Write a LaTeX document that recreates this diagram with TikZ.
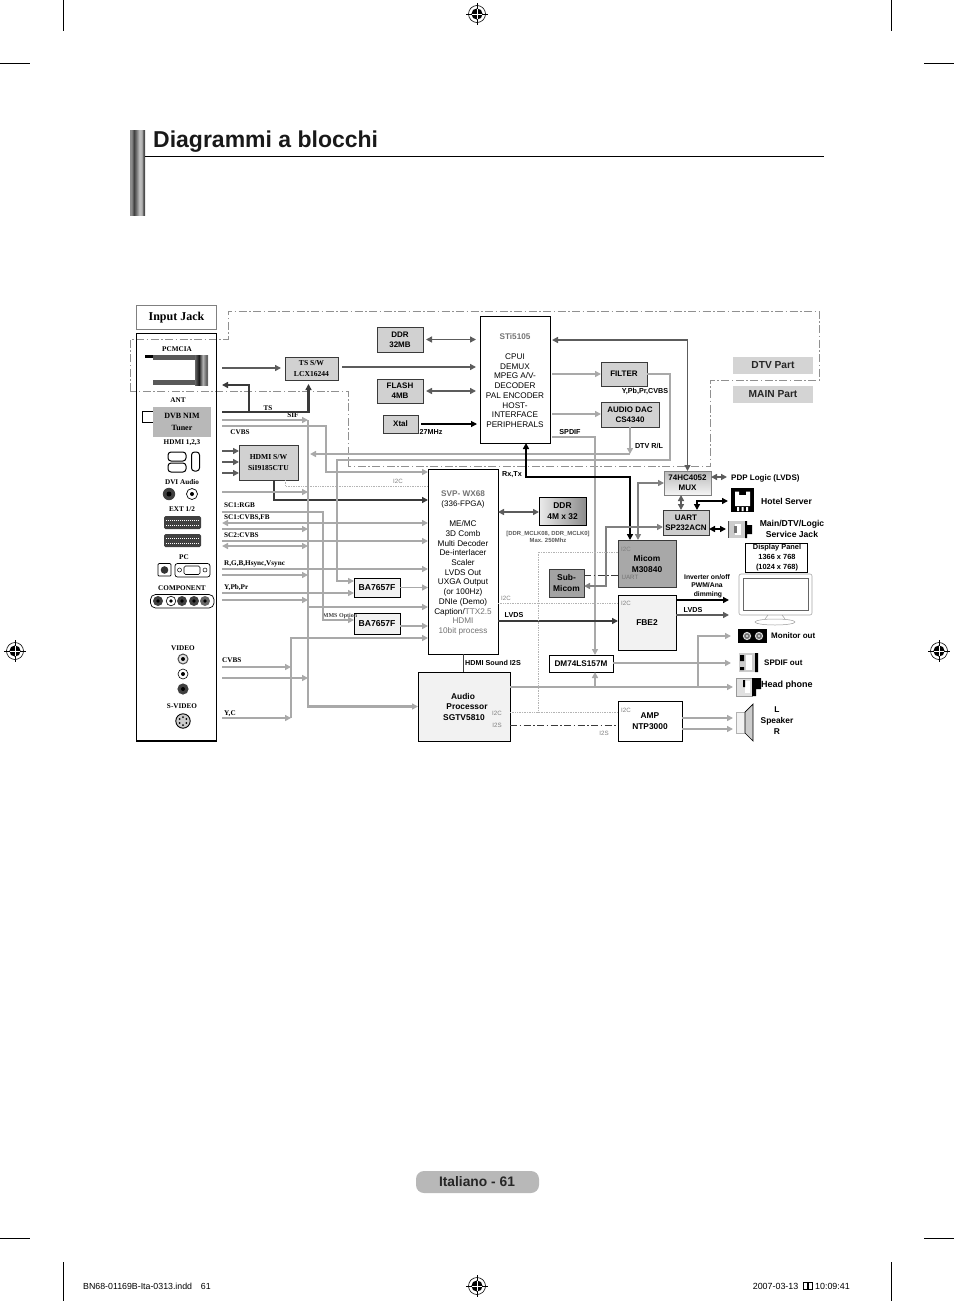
\documentclass[tikz,border=0pt]{standalone}
\usepackage{fontspec}
\setmainfont{Liberation Sans}
\newfontfamily\srf{Liberation Serif}
\usetikzlibrary{arrows.meta,calc,shapes.geometric}
\definecolor{gA}{HTML}{A9A9A9}
\definecolor{gB}{HTML}{5C5C5C}
\definecolor{gC}{HTML}{3A3A3A}
\definecolor{gT}{HTML}{808080}
\definecolor{gD}{HTML}{909090}
\definecolor{gL}{HTML}{B4B4B4}
\pgfdeclarehorizontalshading{barsh}{100bp}{color(0bp)=(black!45);color(30bp)=(black!45);color(38bp)=(black!75);color(46bp)=(black!55);color(56bp)=(black!25);color(64bp)=(black!30);color(70bp)=(black!70);color(100bp)=(black!70)}
\pgfdeclarehorizontalshading{pcsh}{100bp}{color(0bp)=(black!60);color(25bp)=(black!60);color(40bp)=(black!90);color(55bp)=(black!30);color(70bp)=(black!65);color(85bp)=(black!15);color(100bp)=(black!55)}
\tikzset{x=1pt,y=-1pt,
 tipS/.tip={Triangle[length=6pt,width=6pt]},
 ga/.style={draw=gA,line width=1.9pt,-{tipS}},
 gaa/.style={draw=gA,line width=1.9pt,{tipS}-{tipS}},
 gp/.style={draw=gA,line width=1.9pt},
 busl/.style={draw=gA,line width=2.6pt,-{tipS}},
 dk/.style={draw=gB,line width=1.9pt,-{tipS}},
 dkk/.style={draw=gB,line width=1.9pt,{tipS}-{tipS}},
 md/.style={draw=gT,line width=1.8pt,{tipS}-{tipS}},
 bl/.style={draw=black,line width=1.8pt,-{tipS}},
 blb/.style={draw=black,line width=1.8pt,{tipS}-{tipS}},
 tsl/.style={draw=gC,line width=2.1pt,-{tipS}},
 dtv/.style={draw=gD,line width=.7pt,dash pattern=on 8pt off 2.5pt on 1.5pt off 2.5pt},
 dots/.style={draw=gL,line width=.7pt,densely dotted},
 dashd/.style={draw=gC,line width=.6pt,dash pattern=on 7pt off 2.5pt on 1.5pt off 2.5pt},
 gbox/.style={draw=gC,line width=.8pt,fill=black!18,text=black,font=\fontsize{8}{10.2}\selectfont\bfseries},
 sbox/.style={draw=gC,line width=.8pt,fill=black!18,text=black,font=\srf\fontsize{7.6}{11}\selectfont\bfseries},
 wbox/.style={draw=black,line width=.9pt,fill=white,text=black,font=\fontsize{8.2}{9.72}\selectfont},
 lbox/.style={draw=black,line width=.8pt,fill=black!5,text=black,font=\fontsize{8.4}{11}\selectfont\bfseries},
 dbox/.style={draw=gC,line width=.8pt,fill=black!36,text=black,font=\fontsize{8.4}{11}\selectfont\bfseries},
 pbox/.style={draw=none,fill=black!17,text=black!85,font=\fontsize{10.2}{11}\selectfont\bfseries},
 sl/.style={inner sep=0pt,text=black,font=\srf\fontsize{7.2}{9}\selectfont\bfseries},
 sll/.style={sl,anchor=west},
 hl/.style={inner sep=0pt,text=black,font=\fontsize{7.2}{9.2}\selectfont\bfseries,align=center},
 hll/.style={hl,anchor=west,font=\fontsize{8}{9.2}\selectfont\bfseries},
 il/.style={inner sep=0pt,text=gT,font=\fontsize{6.2}{7}\selectfont},
 cmark/.style={draw=black,line width=.6pt},
}
\def\bx#1#2#3#4#5#6#7{\node[#6,minimum width=#4pt-#2pt,minimum height=#5pt-#3pt,inner sep=0pt,outer sep=0pt,align=center] (#1) at ({(#2+#4)/2},{(#3+#5)/2}) {#7};}
\def\regmark#1#2{\draw[cmark] (#1,#2) circle (8.5);
 \fill[black] (#1,#2) circle (5.6);
 \draw[cmark] (#1-11,#2) -- (#1+11,#2) (#1,#2-11) -- (#1,#2+11);
 \draw[white,line width=.4pt] (#1-5,#2) -- (#1+5,#2) (#1,#2-5) -- (#1,#2+5);}
\begin{document}
\begin{tikzpicture}
\useasboundingbox (0,0) rectangle (954,1301);
% crop marks
\draw[cmark] (63,0) -- (63,31) (891,0) -- (891,31) (0,63) -- (30,63) (924,63) -- (954,63);
\draw[cmark] (63,1262) -- (63,1301) (891,1262) -- (891,1301) (0,1238) -- (30,1238) (924,1238) -- (954,1238);
\regmark{477}{14}\regmark{15}{651}\regmark{939}{651}\regmark{477}{1286}
% title
\shade[shading=barsh] (130,130) rectangle (145,215);
\draw[black,line width=.8pt] (145,156.5) -- (824,156.5);
\node[anchor=base west,inner sep=0pt,font=\fontsize{23}{25}\selectfont\bfseries,text=black!90] (title) at (153,147.5) {Diagrammi a blocchi};
% footer
\fill[black!28,rounded corners=8pt] (416,1171) rectangle (539,1193);
\node[inner sep=0pt,font=\fontsize{13.8}{16}\selectfont\bfseries,text=black!85] (foot) at (477,1181.5) {Italiano - 61};
\node[anchor=west,inner sep=0pt,font=\fontsize{8.8}{9}\selectfont] (footl) at (83,1286) {BN68-01169B-Ita-0313.indd\quad 61};
\node[anchor=east,inner sep=0pt,font=\fontsize{8.9}{9}\selectfont] (footr) at (850,1286) {2007-03-13\ \ \tikz[x=1pt,y=1pt]\draw[line width=.4pt] (0,0) rectangle (4,7) (5,0) rectangle (9,7);\ 10:09:41};
% DTV boundary
\draw[dtv] (130,391) -- (130,339) -- (228,339) -- (228,311) -- (819,311) -- (819,380) -- (710,380) -- (710,466) -- (348,466) -- (348,391) -- cycle;
% input panel
\node[draw=gT,line width=1.6pt,fill=white,inner sep=0pt,minimum width=80pt,minimum height=24pt,font=\srf\fontsize{12}{14}\selectfont\bfseries] (ij) at (176.5,317.5) {\raisebox{-1.5pt}{Input Jack}};
\draw[black,line width=.9pt] (136.5,333) -- (136.5,741) (216.7,333) -- (216.7,741) (136.5,333) -- (216.7,333);
\draw[black,line width=1.4pt] (136,741) -- (217,741);
\node[sl] (pcm) at (177,349) {PCMCIA};
\fill[black] (145,355) rectangle (153,357.5);
\fill[black!65] (153,355) rectangle (195,359.5);
\fill[black!65] (153,380) rectangle (195,384.5);
\shade[shading=pcsh] (195,355) rectangle (208,385);
\node[sl] (ant) at (178,400) {ANT};
\draw[black,line width=.6pt,fill=white] (142,411) rectangle (153,422);
\bx{dvb}{153}{407}{211}{437}{draw=none,fill=black!28,font=\srf\fontsize{8}{11.5}\selectfont\bfseries}{DVB NIM\\Tuner}
\node[sl] (hd) at (182,443) {HDMI 1,2,3};
\draw[black,line width=1pt,rounded corners=3pt,fill=white] (168,452) rectangle (186,461) (168,463) rectangle (186,472) (191.5,452) rectangle (199.5,471);
\node[sl] (dvi) at (182,482) {DVI Audio};
\fill[black!75] (169,494) circle (6.2);\fill[black] (169,494) circle (2.5);
\draw[black,line width=.7pt] (192,494) circle (5.5);\fill[black] (192,494) circle (2);
\node[sl] (ext) at (182,509) {EXT 1/2};
\foreach \yy in {516,534}{
 \fill[black!75,rounded corners=1.5pt] (164,\yy) rectangle (201,\yy+13);
 \draw[white,line width=1pt,dash pattern=on 1pt off 1pt] (166,\yy+4) -- (199,\yy+4) (166,\yy+9) -- (199,\yy+9);}
\node[sl] (pc) at (184,557) {PC};
\draw[black,line width=.7pt,rounded corners=1pt] (158,563.5) rectangle (171,576);
\fill[black!80] (164.5,570) circle (3.8);
\draw[black,line width=.7pt,rounded corners=2.5pt] (175,563.5) rectangle (210,577);
\draw[black,line width=.6pt,rounded corners=1.5pt] (184,566) rectangle (200,574.5);
\draw[black,line width=.5pt] (179.5,570) circle (2) (205,570) circle (2);
\node[sl] (cmp) at (182,588) {COMPONENT};
\draw[black,line width=.7pt,rounded corners=5pt] (150.5,594.5) rectangle (214,608);
\foreach \xx/\cc in {158/75,182/75,194/75,205/60}{\fill[black!\cc] (\xx,601) circle (5);\fill[black] (\xx,601) circle (1.8);}
\draw[black,line width=.6pt] (171,601) circle (4.8);\fill[black] (171,601) circle (1.8);
\node[sl] (vd) at (183,648) {VIDEO};
\draw[black!70,line width=1pt,fill=black!12] (183,659) circle (5);\fill[black] (183,659) circle (2);
\draw[black,line width=.6pt] (183,674) circle (5);\fill[black] (183,674) circle (2);
\fill[black!75] (183,689) circle (5.6);\fill[black] (183,689) circle (2);
\node[sl] (sv) at (182,706) {S-VIDEO};
\draw[black,line width=.9pt,fill=black!20] (183,721) circle (7.2);
\foreach \aa in {30,90,150,210,270,330}{\fill[black] (183,721)+(\aa:4) circle (1);}
% left labels
\node[sll] (l1) at (224,505) {SC1:RGB};
\node[sll] (l2) at (224,517.5) {SC1:CVBS,FB};
\node[sll] (l3) at (224,535) {SC2:CVBS};
\node[sll] (l4) at (224,563.5) {R,G,B,Hsync,Vsync};
\node[sll] (l5) at (224,587.5) {Y,Pb,Pr};
\node[sll] (l6) at (222,660) {CVBS};
\node[sll] (l7) at (224,714) {Y,C};
\node[sl] (l8) at (268,408.5) {TS};
\node[sl] (l9) at (293,415.5) {SIF};
\node[sl] (l10) at (240,432) {CVBS};
% boxes
\bx{ts}{285}{357}{338}{380}{sbox}{TS S/W\\LCX16244}
\bx{hdmi}{239}{445}{298}{480}{sbox}{HDMI S/W\\SiI9185CTU}
\bx{ddr1}{377}{327}{423}{352}{gbox}{DDR\\32MB}
\bx{fl}{377}{379}{423}{403}{gbox}{FLASH\\4MB}
\bx{xt}{383}{415}{418}{433}{gbox}{Xtal}
\node[wbox,minimum width=70pt,minimum height=127pt,inner sep=0pt,outer sep=0pt] (sti) at (515,379.5) {};
\bx{filt}{601}{362}{647}{386}{gbox}{FILTER}
\bx{dac}{601}{402}{659}{427}{gbox}{AUDIO DAC\\CS4340}
\node[wbox,minimum width=70pt,minimum height=185pt,inner sep=0pt,outer sep=0pt] (svp) at (463,561.5) {};
\bx{ddr2}{539}{497}{586}{525}{lbox,left color=black!8,right color=black!45}{DDR\\4M x 32}
\bx{ba1}{354}{578}{400}{597}{lbox,font=\fontsize{8.6}{10}\selectfont\bfseries}{BA7657F}
\bx{ba2}{354}{613}{400}{634}{lbox,font=\fontsize{8.6}{10}\selectfont\bfseries}{BA7657F}
\bx{aud}{418}{672}{510}{741}{lbox}{}
\bx{mux}{664}{471}{711}{495}{gbox,draw=black!50,top color=black!28,bottom color=black!4}{74HC4052\\MUX}
\bx{uart}{663}{510}{709}{535}{gbox,draw=gC,fill=black!20}{UART\\SP232ACN}
\bx{mic}{618}{540}{676}{587}{dbox,fill=black!34}{Micom\\M30840}
\bx{sub}{549}{569}{584}{597}{dbox}{Sub-\\Micom}
\bx{fbe}{618}{595}{676}{650}{lbox}{FBE2}
\bx{dm}{549}{655}{613}{672}{lbox,fill=white,font=\fontsize{8.2}{10}\selectfont\bfseries}{DM74LS157M}
\bx{amp}{618}{701}{682}{741}{lbox,fill=white}{AMP\\NTP3000}
\bx{disp}{745}{543}{807}{572}{lbox,fill=white,font=\fontsize{7.4}{9.8}\selectfont\bfseries}{\hspace*{2pt}Display Panel\\\hspace*{2pt}1366 x 768\\\hspace*{2pt}(1024 x 768)}
\bx{dtvp}{733}{357}{813}{374}{pbox}{DTV Part}
\bx{mainp}{733}{386}{813}{403}{pbox}{MAIN Part}
\node[inner sep=0pt,font=\srf\fontsize{6}{7}\selectfont\bfseries,text=black!75] (l11) at (340,616) {MMS Option};
% STi text
\node[inner sep=0pt,font=\fontsize{8.2}{10}\selectfont\bfseries,text=black!55] (stit) at (515,336.5) {STi5105};
\node[inner sep=0pt,align=center,font=\fontsize{8.2}{9.72}\selectfont,anchor=north] (stib) at (515,353.5) {CPUI\\DEMUX\\MPEG A/V-\\DECODER\\PAL ENCODER\\HOST-\\INTERFACE\\PERIPHERALS};
% SVP text
\node[inner sep=0pt,font=\fontsize{8.2}{10}\selectfont\bfseries,text=black!55] (svpt) at (463,494) {SVP- WX68};
\node[inner sep=0pt,font=\fontsize{8}{10}\selectfont] (svpu) at (463,504) {(336-FPGA)};
\node[inner sep=0pt,align=center,font=\fontsize{8.2}{9.72}\selectfont,anchor=north] (svpb) at (463,520.5) {ME/MC\\3D Comb\\Multi Decoder\\De-interlacer\\Scaler\\LVDS Out\\UXGA Output\\(or 100Hz)\\DNIe (Demo)\\Caption/{\color{black!55}TTX2.5}\\{\color{black!55}HDMI}\\{\color{black!55}10bit process}};
% audio text
\node[inner sep=0pt,font=\fontsize{8.4}{10}\selectfont\bfseries] (a1) at (463,696) {Audio};
\node[inner sep=0pt,font=\fontsize{8.4}{10}\selectfont\bfseries] (a2) at (467,707) {Processor};
\node[inner sep=0pt,font=\fontsize{8.4}{10}\selectfont\bfseries] (a3) at (464,718) {SGTV5810};
% small grey labels
\node[il] (i1) at (398,481) {I2C};
\node[il] (i2) at (506,598) {I2C};
\node[il] (i3) at (497,713) {I2C};
\node[il] (i4) at (497,725) {I2S};
\node[il] (i5) at (604,733) {I2S};
\node[il] (i6) at (626,710) {I2C};
\node[il] (i7) at (626,603) {I2C};
\node[il] (i8) at (626,549) {I2C};
\node[il,text=black!55] (i9) at (630,577.5) {UART};
% hl labels
\node[hl] (h1) at (431,432) {27MHz};
\node[hl] (h2) at (570,432) {SPDIF};
\node[hl] (h3) at (645,391) {Y,Pb,Pr,CVBS};
\node[hl] (h4) at (649,446) {DTV R/L};
\node[hl] (h5) at (512,474.5) {Rx,Tx};
\node[hl,font=\fontsize{5.9}{7.2}\selectfont\bfseries,text=black!65] (h6) at (548,537) {[DDR\_MCLK08, DDR\_MCLK0]\\Max. 250Mhz};
\node[hl] (h7) at (514,615) {LVDS};
\node[hl] (h8) at (493,663) {HDMI Sound I2S};
\node[hl,font=\fontsize{6.8}{8.6}\selectfont\bfseries] (h9) at (707,586) {Inverter on/off\\PWM/Ana\\\ dimming};
\node[hl] (h10) at (693,610) {LVDS};
\node[hll] (h11) at (731,478) {PDP Logic (LVDS)};
\node[hll,font=\fontsize{8.6}{11}\selectfont\bfseries] (h12) at (761,501) {Hotel Server};
\node[hl,font=\fontsize{8.6}{11}\selectfont\bfseries] (h13) at (792,528.5) {Main/DTV/Logic\\Service Jack};
\node[hll] (h14) at (771,635.5) {Monitor out};
\node[hll] (h15) at (764,662.5) {SPDIF out};
\node[hll,font=\fontsize{9}{10}\selectfont\bfseries] (h16) at (761,685) {Head phone};
\node[hl,font=\fontsize{8.4}{11}\selectfont\bfseries] (h17) at (777,721) {L\\Speaker\\R};
% right icons
\fill[black] (731,488) rectangle (754,512);
\fill[white] (735,491.5) -- (739,491.5) -- (739,495) -- (746,495) -- (746,491.5) -- (750,491.5) -- (750,506) -- (735,506) -- cycle;
\fill[white] (737,507) rectangle (739,511) (741.5,507) rectangle (743.5,511) (746,507) rectangle (748,511);
% service jack
\fill[black!20] (728,521) rectangle (745,538);\fill[white] (735,524) rectangle (741,535);\fill[black!70] (728,521) rectangle (729,538);
\fill[black] (745,521) -- (747,521) -- (747,525) -- (752,525) -- (752,534) -- (747,534) -- (747,538) -- (745,538) -- cycle;
\fill[black!55] (734,526) rectangle (737,533);
% TV
\draw[black!35,line width=.6pt,rounded corners=2pt,fill=white] (739,574) rectangle (812,615);
\draw[black!60,line width=.6pt] (743,578) rectangle (808,610);
\draw[black!40,line width=.5pt] (775,622) ellipse (20 and 3);
\draw[black!40,line width=.5pt] (768,615) -- (765,619) (782,615) -- (785,619);
% monitor out
\fill[black] (738,629) rectangle (767,643);
\foreach \xx in {747,759}{\draw[black!15,line width=1pt,fill=black!55] (\xx,636) circle (3.6);\fill[black!10] (\xx,636) circle (1.2);}
% spdif out
\fill[black!20] (739,653) rectangle (755,672);\fill[white] (746,655) rectangle (752,670);
\fill[black] (740,655) rectangle (744,661) (740,667) rectangle (744,670) (755,653) rectangle (758,672);
% head phone
\fill[black!12] (736,678) rectangle (752,696);\draw[black!40,line width=.3pt] (736,678) rectangle (752,696);\fill[white] (745,681) rectangle (750,693);
\fill[black] (743,680) rectangle (745,687) (752,678) rectangle (761,689) (752,689) rectangle (756,696);
% speaker
\draw[black!30,line width=.5pt,fill=black!5] (736,712) rectangle (745,733);
\draw[black,line width=.7pt,fill=black!20] (745,712) -- (753,704) -- (753,741) -- (745,733) -- cycle;
% coordinates
\foreach \n/\x/\y in {sPC/222/368,tsO/342/367,sTS/222/412,sTSb/222/385,jTS/249/412,sSIF/222/420,sCV/222/426,sH1/222/451,sH2/222/462,sH3/222/473,sD/222/492,sRGB/222/512,sFBa/222/523,sFBb/222/529,sC2a/222/541,sC2b/222/546,sVa/222/569,sVb/222/575,sYa/222/593,sYb/222/600,sCv/222/667,sCw/222/678,sYC/222/718,jB1/308/420,jB2/308/523,jB3/308/607,jV/291/667,jDM/595/687,jMon/698/687,oMon/731/636,oSp/731/663,oHp/733/687,oA1/733/718,oA2/733/729,oIn/729/600,oLv/729/615,oHot/728/501,oSv/726/529,oPdp/727/477,
 stiR/550/340,stiF/550/374,stiD/550/414,stiS/550/437,stiB/526/443,micA/630/540,micB/638/540,muxL/664/483,uT/697/510,uR/709/529,uL/663/527,subR/584/586,subD/584/575,micD/618/575,dmT/595/655,audR/510/687,svpH/428/500,svpD/428/486,svpL/498/621,ddrL/498/512,ba1I/354/581,ba2I/354/620,ba2O/400/626,j454/630/454,h454/310/454,svpI/498/603,fbeI/618/603,i2sL/510/725,i2sR/618/725,i2cL/510/712,i2cR/618/712,i2cT/618/552,i2cC/538/552,i2cB/538/712,fbeH/676/600,fbeV/676/615,muxB/681/495,uartT/681/510,muxR/711/477,fltE/647/374,svpT/428/638,svp2/428/472}{\coordinate (\n) at (\x,\y);}
% dark connectors
\draw[dk,shorten >=4pt] (sPC) -- (sPC -| ts.west);
\draw[dk,line width=2.2pt,shorten >=4pt] (tsO) -- (tsO -| sti.west);
\draw[tsl,shorten >=4pt] (sTS) -| ([xshift=-3pt]ts.south);
\draw[tsl] (jTS) |- (sTSb);
\foreach \s in {sH1,sH2,sH3}{\draw[dk] (\s) -- (\s -| hdmi.west);}
\draw[tsl] ([xshift=5.5pt]hdmi.south) |- (svpH);
\draw[dots] ([xshift=16.5pt]hdmi.south) |- (svpD);
\draw[dkk,shorten >=4pt,shorten <=3pt] (ddr1.east) -- (ddr1.east -| sti.west);
\draw[dkk,shorten >=4pt,shorten <=3pt] (fl.east) -- (fl.east -| sti.west);
\draw[black,line width=1.1pt,-{tipS},shorten >=3pt,shorten <=3pt] (xt.east) -- (xt.east -| sti.west);
\draw[dkk,shorten <=2pt] (stiR) -| (mux.north);
\draw[ga,shorten <=2pt] (stiF) -- (stiF -| filt.west);
\draw[ga,shorten <=2pt] (stiD) -- (stiD -| dac.west);
\draw[ga] (filt.east) -- (670,374) -- (670,460) -- (337,460) |- (ba1I);
\draw[ga] (dac.south) -- (j454);
\draw[ga] (j454) -- (h454);
\draw[ga,shorten <=2pt] (stiS) -| (dmT);
\draw[ga] (audR) -- (oHp);
\draw[ga] (jDM) -- (jDM |- dm.south);
\draw[ga] (jMon) |- (oMon);
\draw[ga] (oSp -| dm.east) -- (oSp);
\draw[ga] (oA1 -| amp.east) -- (oA1);
\draw[ga] (oA2 -| amp.east) -- (oA2);
\draw[tsl] (svpL) -- (svpL -| fbe.west);
\draw[blb] (stiB) |- (630,477) -- (micA);
\draw[md] (micB) |- (muxL);
\draw[dkk] (muxB) -- (uartT);
\draw[blb] (uT) |- (oHot);
\draw[blb] (uR) -- (oSv);
\draw[dkk] (muxR) -- (oPdp);
\draw[md] (uL) -- (606,527) |- (subR);
\draw[dashd] (subD) -- (micD);
\draw[dots] (i2cT) -- (i2cC) -- (i2cB);
\draw[dots] (i2cL) -- (i2cR);
\draw[dots] (svpI) -- (fbeI);
\draw[dashd] (i2sL) -- (i2sR);
\draw[gC,line width=.7pt] (svp.south) -- (svp.south |- aud.north);
\draw[dkk] (ddrL) -- (ddrL -| ddr2.west);
\draw[ga] (ba1.east) -- (ba1.east -| svp.west);
\draw[ga] (ba2O) -- (ba2O -| svp.west);
\draw[bl] (fbeH) -- (oIn);
\draw[dk] (fbeV) -- (oLv);
% left grey connectors
\draw[ga] (sSIF) -- (jB1);
\draw[busl] (jB1) |- (aud.west);
\draw[ga] (sCV) -- (326,426) |- (svp2);
\draw[ga] (sD) -- (sD -| jB1);
\draw[ga] (sRGB) -- (323,512) |- (ba2I);
\draw[ga] (jB2) -- (sFBa);
\draw[ga] (jB2) -- (jB2 -| svp.west);
\draw[ga] (sFBb) -- (sFBb -| jB1);
\draw[ga] (sC2a) -- (sC2a -| svp.west);
\draw[gaa] (sC2b) -- (sC2b -| jB1);
\draw[ga] (sVa) -- (sVa -| svp.west);
\draw[ga] (sVb) -- (sVb -| jB1);
\draw[ga] (sYa) -- (sYa -| ba1.west);
\draw[ga] (sYb) -- (sYb -| jB1);
\draw[ga] (jB3) -- (jB3 -| svp.west);
\draw[ga] (sCv) -- (sCv -| jV);
\draw[ga] (sYC) -- (sYC -| jV);
\draw[ga] (sCw) -- (sCw -| jB1);
\draw[ga] (sYC -| jV) -- (jV) |- (svpT);
\end{tikzpicture}
\end{document}
